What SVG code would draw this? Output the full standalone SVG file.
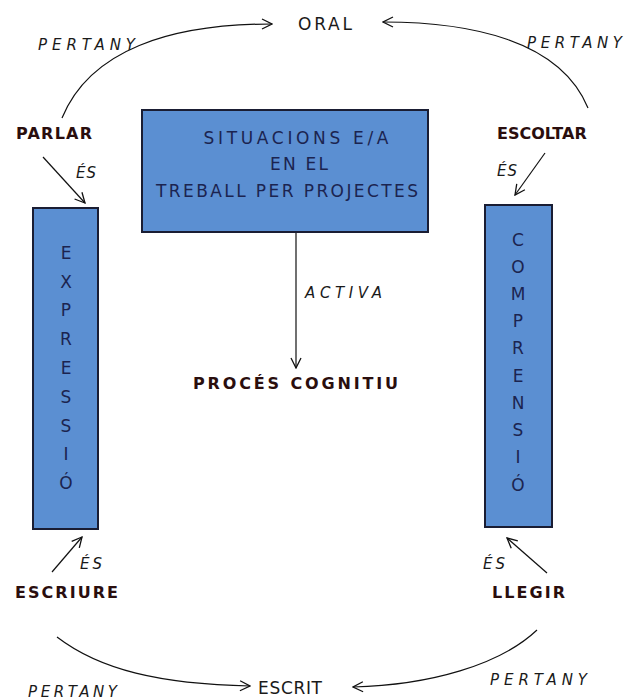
<svg xmlns="http://www.w3.org/2000/svg" width="628" height="700" viewBox="0 0 628 700">
<defs>
<marker id="ah" viewBox="0 0 12 12" refX="11" refY="6" markerWidth="12" markerHeight="12" markerUnits="userSpaceOnUse" orient="auto">
<path d="M1,1 L11,6 L1,11" fill="none" stroke="#111" stroke-width="1.3"/>
</marker>
<style>
.box{fill:#5b8fd2;stroke:#1a1d33;stroke-width:2}
.bx{font-family:"DejaVu Sans","Liberation Sans",sans-serif;font-size:17px;fill:#1b2450;text-anchor:middle}
.lt{font-family:"DejaVu Sans","Liberation Sans",sans-serif;font-size:17px;fill:#1b2450;text-anchor:middle}
.b{font-family:"DejaVu Sans","Liberation Sans",sans-serif;font-weight:bold;font-size:16px;fill:#2a0e0e}
.i{font-family:"DejaVu Sans","Liberation Sans",sans-serif;font-style:italic;font-size:15px;fill:#1a1a1a}
.n{font-family:"DejaVu Sans","Liberation Sans",sans-serif;font-size:17px;fill:#1a1a1a}
.c{fill:none;stroke:#111;stroke-width:1.2;marker-end:url(#ah)}
</style>
</defs>
<g id="connectors">
<path class="c" d="M62,118 C90,50 170,24 272,24"/>
<path class="c" d="M588,108 C560,40 470,22 383,22"/>
<path class="c" d="M57,637 C100,670 160,684 250,686"/>
<path class="c" d="M537,630 C500,665 430,685 353,687"/>
<path class="c" d="M43,157 L85,203"/>
<path class="c" d="M545,153 L515,195"/>
<path class="c" d="M52,572 L82,537"/>
<path class="c" d="M547,573 L507,538"/>
<path class="c" d="M296,232 L296,368"/>
<text class="i" x="38" y="50" textLength="97">PERTANY</text>
<text class="i" x="527" y="48" textLength="95">PERTANY</text>
<text class="i" x="28" y="697" textLength="89">PERTANY</text>
<text class="i" x="490" y="685" textLength="97">PERTANY</text>
<text class="i" x="76" y="178" textLength="20">ÉS</text>
<text class="i" x="497" y="176" textLength="20">ÉS</text>
<text class="i" x="80" y="569" textLength="22">ÉS</text>
<text class="i" x="483" y="569" textLength="22">ÉS</text>
<text class="i" x="305" y="298" textLength="77">ACTIVA</text>
</g>
<g id="oral"><text class="n" x="298" y="30" textLength="54">ORAL</text></g>
<g id="escrit"><text class="n" x="258" y="694" textLength="64">ESCRIT</text></g>
<g id="parlar"><text class="b" x="16" y="139" textLength="76">PARLAR</text></g>
<g id="escoltar"><text class="b" x="497" y="139">ESCOLTAR</text></g>
<g id="escriure"><text class="b" x="15" y="598" textLength="103">ESCRIURE</text></g>
<g id="llegir"><text class="b" x="492" y="598" textLength="73">LLEGIR</text></g>
<g id="proces"><text class="b" x="193" y="389" textLength="205">PROCÉS COGNITIU</text></g>
<g id="situacions">
<rect class="box" x="142" y="110" width="286" height="122"/>
<text class="bx" x="296" y="144" textLength="185">SITUACIONS E/A</text>
<text class="bx" x="299" y="170" textLength="58">EN EL</text>
<text class="bx" x="287" y="197" textLength="262">TREBALL PER PROJECTES</text>
</g>
<g id="expressio">
<rect class="box" x="33" y="208" width="65" height="321"/>
<text class="lt" x="66" y="259">E</text>
<text class="lt" x="66" y="288">X</text>
<text class="lt" x="66" y="316">P</text>
<text class="lt" x="66" y="345">R</text>
<text class="lt" x="66" y="374">E</text>
<text class="lt" x="66" y="403">S</text>
<text class="lt" x="66" y="432">S</text>
<text class="lt" x="66" y="460">I</text>
<text class="lt" x="66" y="489">Ó</text>
</g>
<g id="comprensio">
<rect class="box" x="485" y="205" width="67" height="322"/>
<text class="lt" x="518" y="246">C</text>
<text class="lt" x="518" y="273">O</text>
<text class="lt" x="518" y="300">M</text>
<text class="lt" x="518" y="327">P</text>
<text class="lt" x="518" y="354">R</text>
<text class="lt" x="518" y="382">E</text>
<text class="lt" x="518" y="409">N</text>
<text class="lt" x="518" y="436">S</text>
<text class="lt" x="518" y="463">I</text>
<text class="lt" x="518" y="491">Ó</text>
</g>
</svg>
